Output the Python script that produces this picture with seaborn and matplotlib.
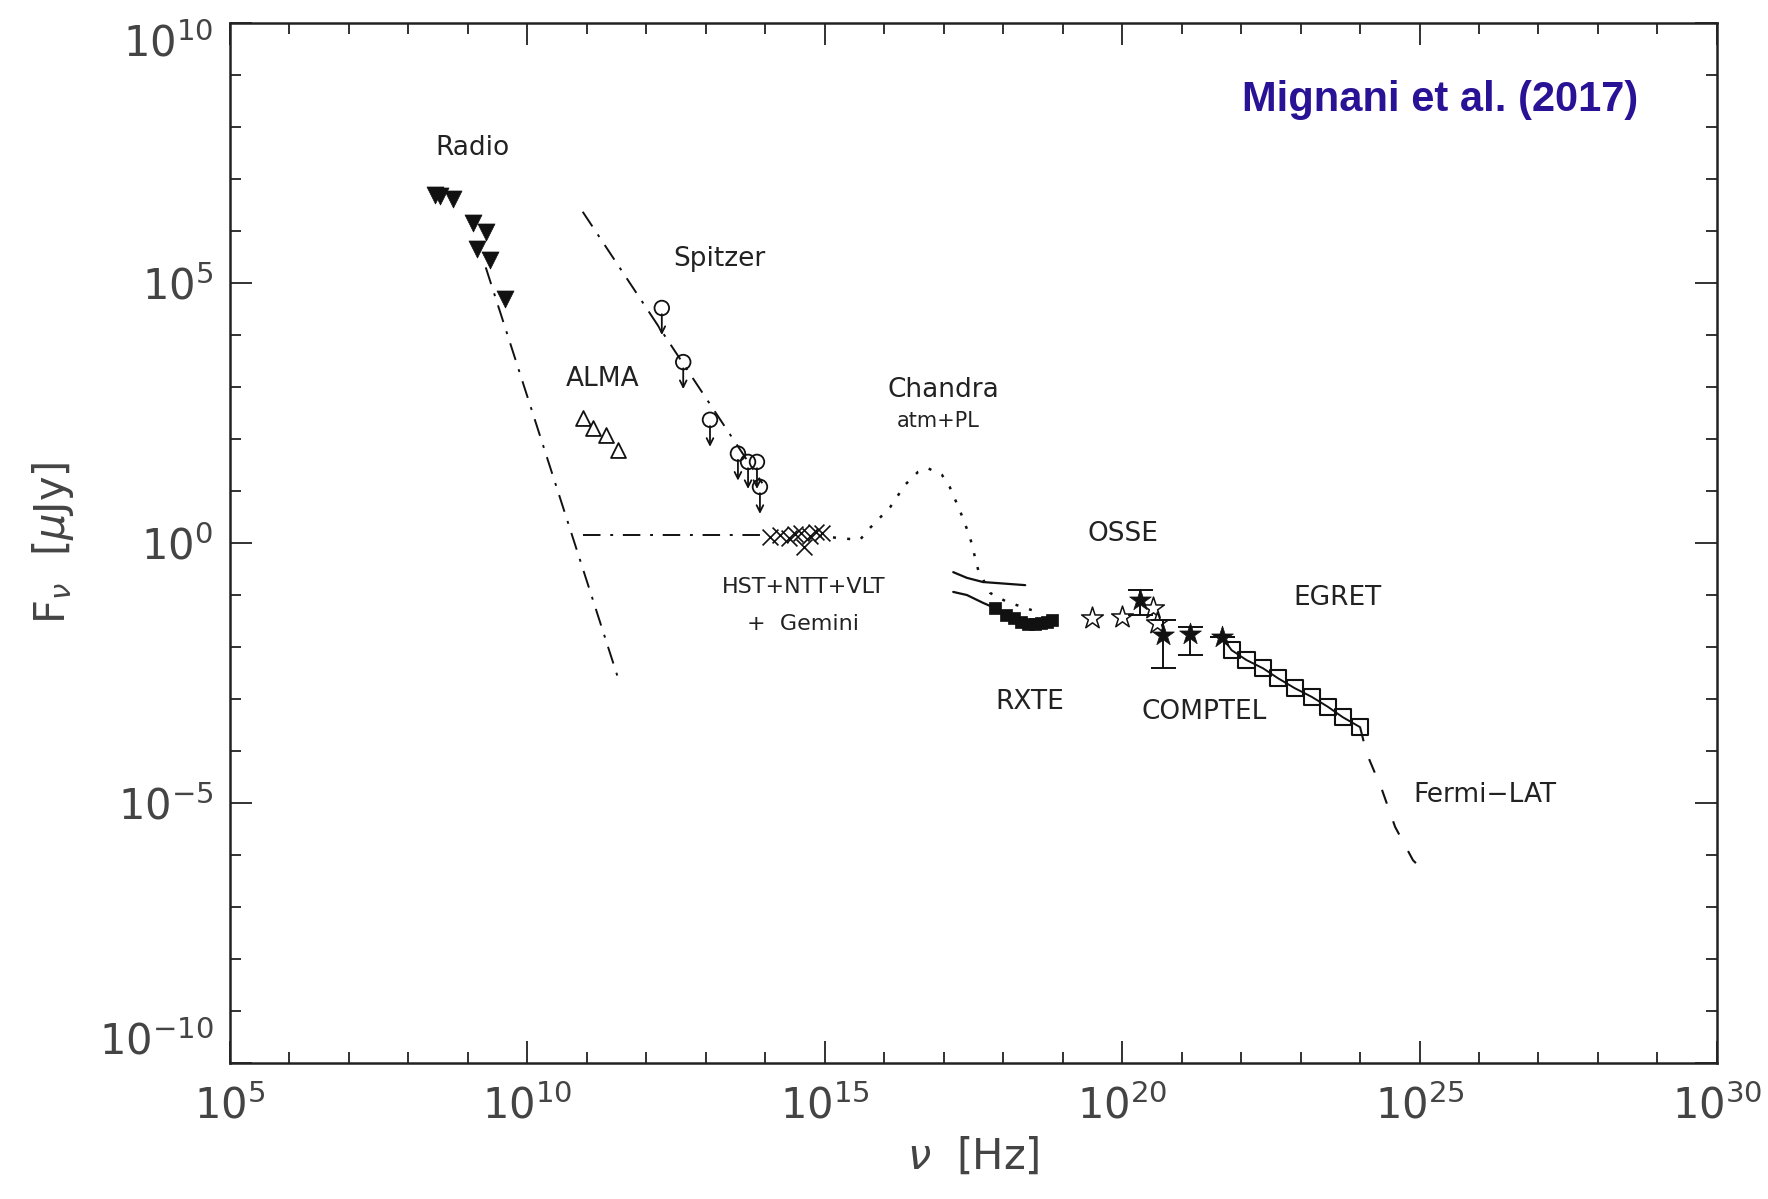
import numpy as np
import pandas as pd
import matplotlib
matplotlib.use("Agg")
import matplotlib.pyplot as plt
import seaborn as sns

# all values are log10(nu / Hz) and log10(F_nu / microJy)
radio_lognu = [8.45, 8.53, 8.75, 9.08, 9.30, 9.15, 9.37, 9.63]
radio_logf = [6.70, 6.68, 6.62, 6.15, 5.98, 5.66, 5.44, 4.70]

alma_lognu = [10.93, 11.10, 11.33, 11.52]
alma_logf = [2.40, 2.21, 2.08, 1.79]

spitzer_lognu = [12.26, 12.62, 13.07, 13.54, 13.71, 13.86, 13.91]
spitzer_logf = [4.52, 3.48, 2.37, 1.72, 1.56, 1.56, 1.08]

optical_lognu = [14.08, 14.25, 14.40, 14.50, 14.60, 14.65, 14.75, 14.85, 14.95]
optical_logf = [0.12, 0.16, 0.10, 0.18, 0.20, -0.08, 0.14, 0.22, 0.20]

rxte_lognu = [17.86, 18.05, 18.18, 18.30, 18.42, 18.53, 18.63, 18.73, 18.82]
rxte_logf = [-1.25, -1.38, -1.45, -1.52, -1.55, -1.55, -1.53, -1.51, -1.48]

osse_lognu = [19.49, 20.00, 20.52, 20.58]
osse_logf = [-1.44, -1.42, -1.25, -1.54]

comptel_lognu = [20.30, 20.69, 21.14, 21.68]
comptel_logf = [-1.10, -1.77, -1.74, -1.81]
comptel_loghi = [-0.90, -1.48, -1.62, -1.81]
comptel_loglo = [-1.38, -2.40, -2.15, -1.81]

egret_lognu = [21.84, 22.09, 22.37, 22.62, 22.90, 23.19, 23.46, 23.71, 24.00]
egret_logf = [-2.06, -2.25, -2.41, -2.60, -2.79, -2.96, -3.15, -3.35, -3.54]

# model curves
radio_pl_lognu = [9.30, 11.52]
radio_pl_logf = [5.30, -2.58]
ir_pl_lognu = [10.93, 13.95]
ir_pl_logf = [6.37, 1.15]
opt_pl_lognu = [10.93, 14.05]
opt_pl_logf = [0.15, 0.15]
atm_lognu = [14.90, 15.20, 15.59, 15.76, 16.10, 16.35, 16.57, 16.73, 16.97,
             17.10, 17.27, 17.44, 17.58, 17.78, 18.06, 18.48]
atm_logf = [0.14, 0.10, 0.06, 0.29, 0.69, 1.12, 1.37, 1.44, 1.31,
            1.08, 0.63, 0.12, -0.52, -0.96, -1.13, -1.29]
pl_up_lognu = [17.16, 17.39, 17.66, 18.37]
pl_up_logf = [-0.56, -0.67, -0.75, -0.81]
pl_lo_lognu = [17.16, 17.39, 17.66, 17.86]
pl_lo_logf = [-0.94, -1.00, -1.15, -1.25]
egret_line_lognu = [21.68] + egret_lognu
egret_line_logf = [-1.81] + egret_logf
fermi_lognu = [24.00, 24.11, 24.37, 24.59, 24.89, 24.97]
fermi_logf = [-3.54, -4.04, -4.75, -5.46, -6.10, -6.19]

labels = ["Radio", "Spitzer", "ALMA", "Chandra", "atm+PL", "HST+NTT+VLT",
          "+  Gemini", "OSSE", "EGRET", "RXTE", "COMPTEL", "Fermi\u2212LAT"]
label_lognu = [9.08, 13.22, 11.27, 17.0, 16.9, 14.65, 14.63, 20.01, 23.62, 18.45, 21.38, 26.1]
label_logf = [7.60, 5.46, 3.15, 2.94, 2.35, -0.85, -1.56, 0.17, -1.06, -3.06, -3.25, -4.85]
label_sizes = [19, 19, 19, 19, 15, 16, 16, 19, 19, 19, 19, 19]

xtick_exps = [5, 10, 15, 20, 25, 30]
ytick_exps = [-10, -5, 0, 5, 10]

sns.set_style("ticks")
plt.rcParams["font.family"] = ["DejaVu Sans"]
plt.rcParams["mathtext.fontset"] = "dejavusans"

fig = plt.figure(figsize=(17.68, 11.99), dpi=100)
ax = fig.add_axes([0.1301, 0.1134, 0.841, 0.8674])
ax.set_xscale("log")
ax.set_yscale("log")

def p(a):
    return 10.0 ** np.asarray(a, dtype=float)

ink = "#111111"

# model lines
def line(xs, ys, ls, lw=1.4):
    sns.lineplot(x=p(xs), y=p(ys), ax=ax, sort=False, estimator=None,
                 color=ink, linewidth=lw, linestyle=ls)

dashdot = (0, (9, 5, 1.5, 5))
line(radio_pl_lognu, radio_pl_logf, dashdot)
line(ir_pl_lognu, ir_pl_logf, dashdot)
line(opt_pl_lognu, opt_pl_logf, dashdot)
line(atm_lognu, atm_logf, (0, (1.2, 4.5)), lw=1.8)
line(pl_up_lognu, pl_up_logf, "-", lw=1.6)
line(pl_lo_lognu, pl_lo_logf, "-", lw=1.6)
line(egret_line_lognu, egret_line_logf, "-", lw=1.4)
line(fermi_lognu, fermi_logf, (0, (7, 9)), lw=1.5)

# data points
sns.scatterplot(x=p(radio_lognu), y=p(radio_logf), ax=ax, marker="v", s=150,
                color=ink, edgecolor=ink, linewidth=0.5, zorder=3)
sns.scatterplot(x=p(alma_lognu), y=p(alma_logf), ax=ax, marker="^", s=115,
                facecolor="white", edgecolor=ink, linewidth=1.3, zorder=3)
sns.scatterplot(x=p(spitzer_lognu), y=p(spitzer_logf), ax=ax, marker="o", s=110,
                facecolor="none", edgecolor=ink, linewidth=1.3, zorder=3)
for xv, yv in zip(spitzer_lognu, spitzer_logf):
    ax.annotate("", xy=(p(xv), p(yv - 0.52)), xytext=(p(xv), p(yv - 0.12)),
                arrowprops=dict(arrowstyle="->", color=ink, lw=1.3,
                                shrinkA=0, shrinkB=0, mutation_scale=12))
sns.scatterplot(x=p(optical_lognu), y=p(optical_logf), ax=ax, marker="x", s=130,
                color=ink, linewidth=1.2, zorder=3)
sns.scatterplot(x=p(rxte_lognu), y=p(rxte_logf), ax=ax, marker="s", s=85,
                color=ink, edgecolor=ink, linewidth=0.5, zorder=3)
sns.scatterplot(x=p(osse_lognu), y=p(osse_logf), ax=ax, marker="*", s=270,
                facecolor="white", edgecolor=ink, linewidth=1.1, zorder=3)
yc = p(comptel_logf)
ax.errorbar(p(comptel_lognu), yc,
            yerr=[yc - p(comptel_loglo), p(comptel_loghi) - yc],
            fmt="none", ecolor=ink, elinewidth=1.4, capsize=9, capthick=1.4, zorder=3)
sns.scatterplot(x=p(comptel_lognu), y=yc, ax=ax, marker="*", s=270,
                color=ink, edgecolor=ink, linewidth=0.5, zorder=4)
sns.scatterplot(x=p(egret_lognu), y=p(egret_logf), ax=ax, marker="s", s=135,
                facecolor="none", edgecolor=ink, linewidth=1.5, zorder=3)

for name, lx, ly, fs in zip(labels, label_lognu, label_logf, label_sizes):
    ax.text(p(lx), p(ly), name, ha="center", va="center", fontsize=fs, color="#222222")

ax.text(0.947, 0.926, "Mignani et al. (2017)", transform=ax.transAxes,
        ha="right", va="center", fontsize=30, fontweight="bold",
        family=["Liberation Sans", "DejaVu Sans"], color="#2a1296")

ax.set_xlim(1e5, 1e30)
ax.set_ylim(1e-10, 1e10)
ax.set_xticks(p(xtick_exps))
ax.set_xticklabels([rf"$10^{{{e}}}$" for e in xtick_exps])
ax.set_yticks(p(ytick_exps))
ax.set_yticklabels([rf"$10^{{{e}}}$" for e in ytick_exps])
ax.set_xticks(p(np.arange(5, 31)), minor=True)
ax.set_yticks(p(np.arange(-10, 11)), minor=True)
ax.tick_params(which="both", direction="in", top=True, right=True,
               color="#222222", width=1.3)
ax.tick_params(which="major", length=16, labelsize=30, labelcolor="#444444")
ax.tick_params(axis="x", which="major", pad=16)
ax.tick_params(axis="y", which="major", pad=12)
ax.tick_params(which="minor", length=8, labelleft=False, labelbottom=False)
ylabs = ax.get_yticklabels()
ylabs[0].set_va("bottom")
ylabs[-1].set_va("top")
for s in ax.spines.values():
    s.set_linewidth(1.8)
    s.set_color("#222222")

ax.set_xlabel(r"$\nu$  [Hz]", fontsize=30, color="#444444", labelpad=6)
ax.set_ylabel(r"F$_\nu$  [$\mu$Jy]", fontsize=30, color="#444444", labelpad=16)

fig.savefig("out.png", dpi=100)
